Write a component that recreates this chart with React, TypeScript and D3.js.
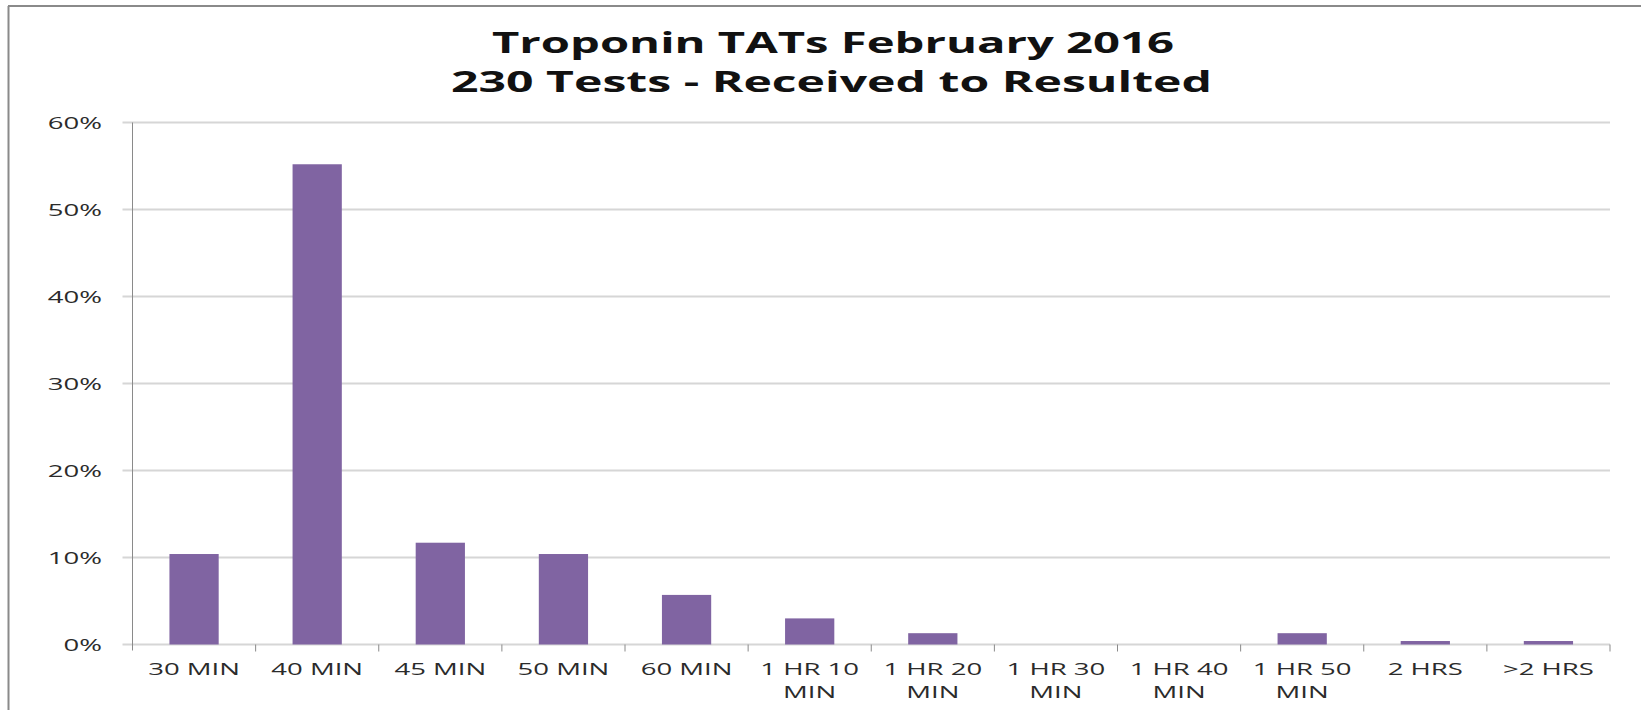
import * as d3 from "d3";

const categories = [
  "30 MIN",
  "40 MIN",
  "45 MIN",
  "50 MIN",
  "60 MIN",
  "1 HR 10 MIN",
  "1 HR 20 MIN",
  "1 HR 30 MIN",
  "1 HR 40 MIN",
  "1 HR 50 MIN",
  "2 HRS",
  ">2 HRS",
];
// label line breaks as they wrap in the picture
const labelLines = [
  ["30 MIN"],
  ["40 MIN"],
  ["45 MIN"],
  ["50 MIN"],
  ["60 MIN"],
  ["1 HR 10", "MIN"],
  ["1 HR 20", "MIN"],
  ["1 HR 30", "MIN"],
  ["1 HR 40", "MIN"],
  ["1 HR 50", "MIN"],
  ["2 HRS"],
  [">2 HRS"],
];
const percents = [10.4, 55.2, 11.7, 10.4, 5.7, 3.0, 1.3, 0, 0, 1.3, 0.4, 0.4];
const yTicks = [0, 10, 20, 30, 40, 50, 60];
const titleLines = ["Troponin TATs February 2016", "230 Tests - Received to Resulted"];

const W = 1641;
const H = 710;
const plot = { left: 132.5, right: 1610, top: 122.5, bottom: 644.5 };
const stretch = 1.62; // the source picture is stretched sideways

export default function App() {
  const x = d3
    .scaleBand<string>()
    .domain(categories)
    .range([plot.left, plot.right])
    .paddingInner(0.6)
    .paddingOuter(0.3);
  const y = d3.scaleLinear().domain([0, 60]).range([plot.bottom, plot.top]);
  const step = x.step();
  const font = "'Open Sans', sans-serif";

  return (
    <svg
      width={W}
      height={H}
      style={{ position: "absolute", left: 0, top: 0, background: "#fff" }}
    >
      {/* frame */}
      <line x1={8} x2={W} y1={6} y2={6} stroke="#8a8a8a" strokeWidth={2} />
      <line x1={8.5} x2={8.5} y1={6} y2={H} stroke="#8a8a8a" strokeWidth={2} />

      {/* title */}
      <text
        x={492}
        y={53}
        fontFamily={font}
        fontWeight="bold"
        fontSize={29}
        fill="#111"
        textLength={682}
        lengthAdjust="spacingAndGlyphs"
      >
        {titleLines[0]}
      </text>
      <text
        x={451}
        y={91.5}
        fontFamily={font}
        fontWeight="bold"
        fontSize={29}
        fill="#111"
        textLength={761}
        lengthAdjust="spacingAndGlyphs"
      >
        {titleLines[1]}
      </text>

      {/* gridlines and y labels */}
      {yTicks.map((t) => (
        <g key={t}>
          <line
            x1={plot.left - 10}
            x2={plot.right}
            y1={y(t)}
            y2={y(t)}
            stroke="#d6d6d6"
            strokeWidth={2}
          />
          <g transform={`translate(102, ${y(t) + 6}) scale(${stretch},1)`}>
            <text textAnchor="end" fontFamily={font} fontSize={17} fill="#2b2b2b">
              {t}%
            </text>
          </g>
        </g>
      ))}

      {/* y axis line */}
      <line
        x1={plot.left}
        x2={plot.left}
        y1={plot.top}
        y2={plot.bottom + 6}
        stroke="#8a8a8a"
        strokeWidth={1}
      />

      {/* category ticks */}
      {categories.map((c, i) => (
        <line
          key={c}
          x1={plot.left + step * (i + 1)}
          x2={plot.left + step * (i + 1)}
          y1={plot.bottom}
          y2={plot.bottom + 7}
          stroke="#8a8a8a"
          strokeWidth={1}
        />
      ))}

      {/* bars */}
      {categories.map((c, i) => (
        <rect
          key={c}
          x={x(c)}
          y={y(percents[i])}
          width={x.bandwidth()}
          height={plot.bottom - y(percents[i])}
          fill="#8064a2"
        />
      ))}

      {/* x labels */}
      {categories.map((c, i) => (
        <g
          key={c}
          transform={`translate(${(x(c) || 0) + x.bandwidth() / 2}, 0) scale(${stretch},1)`}
        >
          {labelLines[i].map((line, j) => (
            <text
              key={j}
              y={675 + j * 23}
              textAnchor="middle"
              fontFamily={font}
              fontSize={17}
              fill="#2b2b2b"
            >
              {line}
            </text>
          ))}
        </g>
      ))}
    </svg>
  );
}
